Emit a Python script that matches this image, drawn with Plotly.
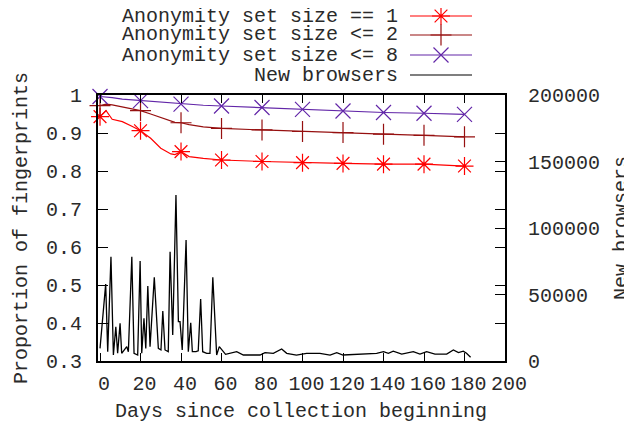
import plotly.graph_objects as go

# ---------------- data ----------------
days_prop = [0, 3, 6, 11, 16, 20, 25, 30, 35, 37, 40, 44, 51, 60, 80, 100, 120, 140, 160, 180]
anon_eq1 = [0.943, 0.959, 0.936, 0.930, 0.917, 0.906, 0.886, 0.860, 0.845, 0.843, 0.851, 0.838,
            0.833, 0.829, 0.825, 0.822, 0.820, 0.818, 0.818, 0.813]
anon_le2 = [0.972, 0.976, 0.974, 0.969, 0.965, 0.959, 0.950, 0.940, 0.930, 0.928, 0.927, 0.922,
            0.916, 0.912, 0.908, 0.904, 0.901, 0.897, 0.894, 0.890]
anon_le8 = [0.996, 0.995, 0.993, 0.989, 0.987, 0.985, 0.983, 0.980, 0.978, 0.977, 0.976, 0.975,
            0.973, 0.971, 0.967, 0.962, 0.958, 0.954, 0.952, 0.949]

nb_days = [0, 2.8, 3.8, 5.4, 6.6, 7.8, 8.7, 9.9, 10.7, 13.2, 14, 15.7, 16.8, 18.6, 19.8, 20.6,
           21.7, 22.6, 23.6, 24.7, 26.8, 28.8, 30.1, 31, 32.1, 33.7, 34.6, 35.9, 37.5, 38.7,
           39.5, 40.6, 42.5, 43.6, 44.8, 45.6, 47.4, 48.5, 49.7, 50.7, 52.7, 54.3, 55.7, 57.6,
           58.9, 62, 67.5, 70.8, 79, 81.5, 85.6, 89.7, 92.2, 97, 102, 108.6, 113.6, 116.9, 120,
           130, 136.6, 140, 142.4, 144.8, 149, 154.7, 158, 161.3, 165.4, 171.2, 174.5, 177,
           179.4, 181, 183]
new_browsers = [9500, 57900, 7000, 78400, 4500, 25800, 5800, 28300, 5800, 10800, 7000, 78400,
                5800, 4500, 75200, 5800, 32100, 9500, 56400, 10800, 63000, 9500, 8300, 37600,
                8300, 7000, 82200, 19500, 124800, 29600, 29600, 8300, 91000, 7000, 28800, 7000,
                7000, 7700, 46600, 7000, 5800, 5800, 63000, 4500, 10800, 5000, 7000, 4500, 4500,
                6300, 5800, 9000, 5800, 4500, 5800, 5800, 4500, 6300, 4500, 5200, 5800, 7000,
                5800, 7400, 5200, 7000, 5200, 7000, 5200, 5200, 8300, 6300, 7400, 5800, 2800]

x_ticks = [0, 20, 40, 60, 80, 100, 120, 140, 160, 180, 200]
y_ticks = [0.3, 0.4, 0.5, 0.6, 0.7, 0.8, 0.9, 1.0]
y2_ticks = [0, 50000, 100000, 150000, 200000]

series_names = ["Anonymity set size == 1", "Anonymity set size <= 2",
                "Anonymity set size <= 8", "New browsers"]

# ---------------- style ----------------
FONT = "Liberation Mono, Courier New, monospace"
FS = 20
TXT = "#2a2a2a"
RED = "#ff0000"
DRED = "#961010"
PURP = "#6226a8"
series_style = [
    (anon_eq1, RED, "asterisk-open"),
    (anon_le2, DRED, "cross-thin-open"),
    (anon_le8, PURP, "x-thin-open"),
]

X_RANGE = [-1, 200]
Y_RANGE = [0.3, 1.0]

# layout in window pixels (the page body adds an 8px margin around the figure)
OFF = 8
WIN_W, WIN_H = 632, 428
W, H = WIN_W - OFF, WIN_H - OFF
L, R, T, B = 98, 505, 95, 361          # plot frame in window pixels
def fx(xp):  # window pixel -> paper fraction (paper = whole figure, zero margins)
    return (xp - OFF) / W
def fy(yp):
    return 1 - (yp - OFF) / H

fig = go.Figure()

for vals, col, sym in series_style:
    fig.add_trace(go.Scatter(x=days_prop, y=vals, mode="lines",
                             line=dict(color=col, width=1.2), showlegend=False,
                             hoverinfo="skip"))
    mx = [d for d in days_prop if d % 20 == 0]
    my = [v for d, v in zip(days_prop, vals) if d % 20 == 0]
    fig.add_trace(go.Scatter(x=mx, y=my, mode="markers",
                             marker=dict(symbol=sym, size=15, color=col,
                                         line=dict(color=col, width=1.2)),
                             showlegend=False, cliponaxis=False))

fig.add_trace(go.Scatter(x=nb_days, y=new_browsers, mode="lines", yaxis="y2",
                         line=dict(color="black", width=1.3), showlegend=False))

annotations = []
# axis titles
annotations.append(dict(x=fx(301), y=fy(411), xref="paper", yref="paper",
                        xanchor="center", yanchor="middle",
                        text="Days since collection beginning", showarrow=False,
                        font=dict(family=FONT, size=FS, color=TXT)))
annotations.append(dict(x=fx(21), y=fy(228), xref="paper", yref="paper",
                        xanchor="center", yanchor="middle",
                        text="Proportion of fingerprints", showarrow=False, textangle=-90,
                        font=dict(family=FONT, size=FS, color=TXT)))
annotations.append(dict(x=fx(621), y=fy(228), xref="paper", yref="paper",
                        xanchor="center", yanchor="middle",
                        text="New browsers", showarrow=False, textangle=-90,
                        font=dict(family=FONT, size=FS, color=TXT)))

# legend (text on the left, sample on the right)
leg_y = [16, 35, 55, 75]
leg_cols = [RED, DRED, PURP, "black"]
shapes = []
for name, yy, col in zip(series_names, leg_y, leg_cols):
    annotations.append(dict(x=fx(399), y=fy(yy), xref="paper", yref="paper", text=name,
                            showarrow=False, xanchor="right", yanchor="middle", borderpad=0,
                            font=dict(family=FONT, size=FS, color=TXT)))
    shapes.append(dict(type="line", xref="paper", yref="paper", x0=fx(410), x1=fx(472),
                       y0=fy(yy), y1=fy(yy), line=dict(color=col, width=1.2)))

# legend sample symbols on a full-figure helper axis pair
for (vals, col, sym), yy in zip(series_style, leg_y[:3]):
    fig.add_trace(go.Scatter(x=[fx(441)], y=[fy(yy)], xaxis="x3", yaxis="y3",
                             mode="markers", cliponaxis=False, showlegend=False,
                             hoverinfo="skip",
                             marker=dict(symbol=sym, size=15, color=col,
                                         line=dict(color=col, width=1.2))))

axis_common = dict(showline=True, linecolor="black", linewidth=2, ticks="inside",
                   tickcolor="black", tickwidth=1, showgrid=False, zeroline=False,
                   automargin=False, tickfont=dict(family=FONT, size=FS, color=TXT))

fig.update_layout(
    width=W, height=H,
    margin=dict(l=0, r=0, t=0, b=0, pad=0),
    paper_bgcolor="white", plot_bgcolor="rgba(0,0,0,0)",
    font=dict(family=FONT, size=FS, color=TXT),
    showlegend=False,
    xaxis=dict(domain=[fx(L), fx(R)], range=X_RANGE, tickvals=x_ticks,
               ticktext=[str(t) for t in x_ticks], anchor="y",
               ticklen=8, mirror="ticks", ticklabelstandoff=3, ticklabelshift=4,
               **axis_common),
    yaxis=dict(domain=[fy(B), fy(T)], range=Y_RANGE, tickvals=y_ticks,
               ticktext=[f"{v:g}" for v in y_ticks], anchor="x",
               ticklen=10, mirror="ticks", ticklabelstandoff=10, **axis_common),
    yaxis2=dict(range=[0, 200000], tickvals=y2_ticks, ticktext=[str(v) for v in y2_ticks],
                overlaying="y", side="right", anchor="x", ticklen=10, ticklabelstandoff=17,
                **axis_common),
    xaxis3=dict(domain=[0, 1], range=[0, 1], anchor="y3", visible=False, fixedrange=True),
    yaxis3=dict(domain=[0, 1], range=[0, 1], anchor="x3", visible=False, fixedrange=True),
    annotations=annotations,
    shapes=shapes,
)

fig.write_html("out.html")
